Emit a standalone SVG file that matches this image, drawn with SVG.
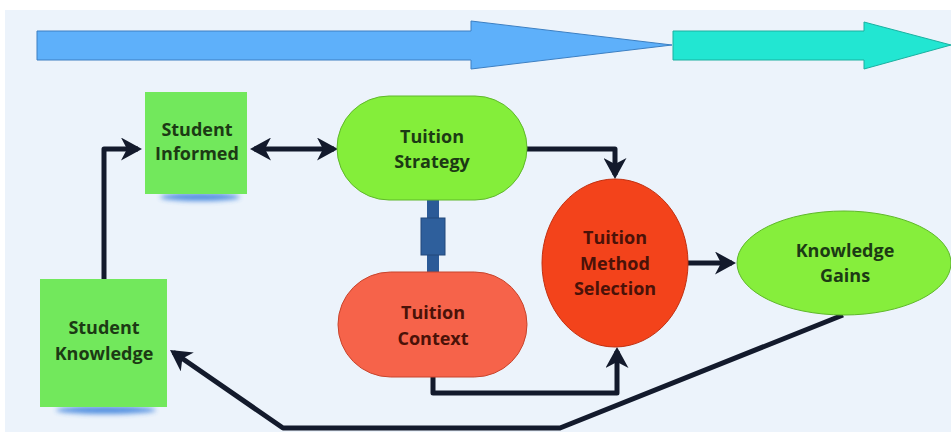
<svg xmlns="http://www.w3.org/2000/svg" width="951" height="432" viewBox="0 0 951 432">
  <defs>
    <style>
      .lbl { font-family: "Open Sans", "Noto Sans", "Liberation Sans", sans-serif; font-weight: 700; font-size: 18px; text-anchor: middle; }
      .lbl-g { fill: #1c3a14; }
      .lbl-r { fill: #4a1208; }
      .note { fill: #72e85c; }
      .pill-g { fill: #84ee3a; stroke: #5fb82a; stroke-width: 1; }
      .pill-r { fill: #f6634a; stroke: #c8442c; stroke-width: 1; }
      .oval-r { fill: #f3431b; stroke: #c23010; stroke-width: 1; }
      .oval-g { fill: #86ee3c; stroke: #5fb82a; stroke-width: 1; }
      .flow { fill: none; stroke: #131a2c; stroke-width: 5; stroke-linejoin: round; }
      .note-shadow { fill: #3a80dc; opacity: 0.85; }
    </style>
    <marker id="head" viewBox="0 0 21 23" markerWidth="21" markerHeight="23" refX="17" refY="11.5" orient="auto-start-reverse" markerUnits="userSpaceOnUse">
      <path d="M0,0 L21,11.5 L0,23 L6,11.5 Z" fill="#131a2c"/>
    </marker>
    <filter id="shadowBlur" x="-30%" y="-100%" width="160%" height="300%">
      <feGaussianBlur stdDeviation="2.5"/>
    </filter>
  </defs>

  <!-- canvas -->
  <rect width="951" height="432" fill="#ffffff"/>
  <rect x="5" y="10" width="946" height="422" fill="#ecf3fb"/>

  <!-- progress arrows across the top -->
  <g id="progress-arrows">
    <polygon points="37,31 471,31 471,21 672,45 471,69 471,60 37,60" fill="#5eb0fa" stroke="#3c7fc2" stroke-width="1"/>
    <polygon points="673,31 864,31 864,22 951,45 864,69 864,60 673,60" fill="#22e6d2" stroke="#1bb0a0" stroke-width="1"/>
  </g>

  <!-- connectors -->
  <g id="connectors">
    <path class="flow" d="M104,279 V149 H138" marker-end="url(#head)"/>
    <path class="flow" d="M254,149 H334" marker-start="url(#head)" marker-end="url(#head)"/>
    <path class="flow" d="M527,149 H615 V175" marker-end="url(#head)"/>
    <path class="flow" d="M433,377 V393 H617 V351" marker-end="url(#head)"/>
    <path class="flow" d="M688,263 H732" marker-end="url(#head)"/>
    <path class="flow" d="M843,315 L560,428 H283 L173.3,352.3" marker-end="url(#head)"/>
    <!-- coupling between strategy and context -->
    <g id="coupling">
      <rect x="427" y="199" width="12" height="75" fill="#2b5a97"/>
      <rect x="421" y="218" width="24" height="37" fill="#2e5f9c" stroke="#22487a" stroke-width="1"/>
    </g>
  </g>

  <!-- nodes -->
  <g id="student-informed">
    <ellipse class="note-shadow" cx="200" cy="197" rx="40" ry="4" filter="url(#shadowBlur)"/>
    <rect class="note" x="145" y="92" width="102" height="102"/>
    <text class="lbl lbl-g" x="197" y="136">Student</text>
    <text class="lbl lbl-g" x="197" y="160">Informed</text>
  </g>

  <g id="tuition-strategy">
    <rect class="pill-g" x="337" y="96" width="190" height="104" rx="52"/>
    <text class="lbl lbl-g" x="432" y="143">Tuition</text>
    <text class="lbl lbl-g" x="432" y="168">Strategy</text>
  </g>

  <g id="tuition-context">
    <rect class="pill-r" x="338" y="272" width="189" height="105" rx="52.5"/>
    <text class="lbl lbl-r" x="433" y="319">Tuition</text>
    <text class="lbl lbl-r" x="433" y="345">Context</text>
  </g>

  <g id="tuition-method-selection">
    <ellipse class="oval-r" cx="615" cy="263" rx="73" ry="84"/>
    <text class="lbl lbl-r" x="615" y="244">Tuition</text>
    <text class="lbl lbl-r" x="615" y="270">Method</text>
    <text class="lbl lbl-r" x="615" y="295">Selection</text>
  </g>

  <g id="knowledge-gains">
    <ellipse class="oval-g" cx="844" cy="263" rx="107" ry="52"/>
    <text class="lbl lbl-g" x="845" y="257">Knowledge</text>
    <text class="lbl lbl-g" x="845" y="282">Gains</text>
  </g>

  <g id="student-knowledge">
    <ellipse class="note-shadow" cx="106" cy="410" rx="50" ry="4" filter="url(#shadowBlur)"/>
    <rect class="note" x="40" y="279" width="127" height="128"/>
    <text class="lbl lbl-g" x="104" y="334">Student</text>
    <text class="lbl lbl-g" x="104" y="360">Knowledge</text>
  </g>
</svg>
